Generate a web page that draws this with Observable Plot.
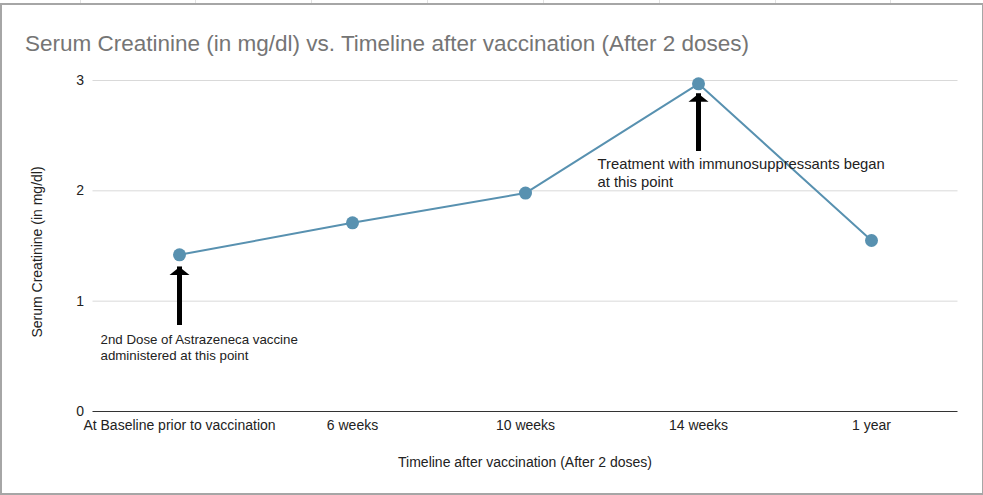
<!DOCTYPE html>
<html>
<head>
<meta charset="utf-8">
<script src="https://cdn.jsdelivr.net/npm/d3@7"></script>
<script src="https://cdn.jsdelivr.net/npm/@observablehq/plot@0.6"></script>
<style>
  html, body { margin: 0; padding: 0; background: #fff; }
  #wrap { position: relative; width: 983px; height: 495px; overflow: hidden; font-family: "Liberation Sans", Arial, sans-serif; }
  .cell { position: absolute; top: 0; width: 1px; height: 4px; background: #e2e2e2; }
  #frame { position: absolute; left: 0; top: 3px; width: 980px; height: 488px; border: 2px solid #a6a6a6; box-sizing: content-box; background: #fff; }
  #title { position: absolute; left: 25px; top: 32px; font-size: 22.5px; line-height: 24px; color: #757575; white-space: nowrap; }
  #xlabel { position: absolute; left: 525px; top: 454px; transform: translateX(-50%); font-size: 14px; line-height: 16px; color: #222; white-space: nowrap; }
  #ylabel { position: absolute; left: 37px; top: 252px; transform: translate(-50%, -50%) rotate(-90deg); font-size: 14px; line-height: 16px; color: #222; white-space: nowrap; }
  #chart { position: absolute; left: 0; top: 0; }
</style>
</head>
<body>
<div id="wrap">
  <div id="frame"></div>
  <div id="title">Serum Creatinine (in mg/dl) vs. Timeline after vaccination (After 2 doses)</div>
  <div id="ylabel">Serum Creatinine (in mg/dl)</div>
  <div id="xlabel">Timeline after vaccination (After 2 doses)</div>
  <div id="chart"></div>
</div>
<script>
// Data
const categories = ["At Baseline prior to vaccination", "6 weeks", "10 weeks", "14 weeks", "1 year"];
const creatinine = [1.42, 1.71, 1.98, 2.97, 1.55];
const yTicks = [0, 1, 2, 3];

// Annotations (arrow + note) in data units
const noteCategory = ["At Baseline prior to vaccination", "14 weeks"];
const arrowTip = [1.31, 2.88];
const arrowTail = [0.834, 2.411];
const noteY = [0.716, 2.311];
const noteText = [
  "2nd Dose of Astrazeneca vaccine\nadministered at this point",
  "Treatment with immunosuppressants began\nat this point"
];
const noteDx = [-79, -101];
const noteSize = [13.3, 14.8];

// spreadsheet cell separators above the chart
const cellEdges = [80, 195, 311, 427, 543, 659, 775, 890];

const wrap = document.getElementById("wrap");
cellEdges.forEach(x => {
  const d = document.createElement("div");
  d.className = "cell";
  d.style.left = x + "px";
  wrap.insertBefore(d, wrap.firstChild);
});

const data = categories.map((c, i) => ({category: c, value: creatinine[i]}));
const notes = noteCategory.map((c, i) => ({category: c, tip: arrowTip[i], tail: arrowTail[i], ty: noteY[i], text: noteText[i], dx: noteDx[i], size: noteSize[i]}));

const lineColor = "#5891b0";

// flat, wide arrow head with its tip at the origin
const arrowHead = {
  draw(context) {
    context.moveTo(0, 0);
    context.lineTo(10, 8);
    context.lineTo(-10, 8);
    context.closePath();
  }
};

const chart = Plot.plot({
  width: 983,
  height: 495,
  marginLeft: 92.5,
  marginRight: 25.5,
  marginTop: 80,
  marginBottom: 84,
  style: {fontFamily: "'Liberation Sans', Arial, sans-serif", fontSize: "14px", color: "#222", background: "transparent", overflow: "visible"},
  x: {type: "point", domain: categories, padding: 0.5, label: null},
  y: {domain: [0, 3], label: null},
  marks: [
    Plot.gridY(yTicks.filter(t => t > 0), {stroke: "#d9d9d9", strokeOpacity: 1}),
    Plot.axisY(yTicks, {tickSize: 0, tickPadding: 9, label: null, tickFormat: d3.format("d"), fill: "#222", fontSize: 14}),
    Plot.axisX({tickSize: 0, tickPadding: 9, label: null, fill: "#222", fontSize: 14}),
    Plot.ruleY([0], {stroke: "#333", strokeWidth: 1}),
    Plot.line(data, {x: "category", y: "value", stroke: lineColor, strokeWidth: 2}),
    Plot.dot(data, {x: "category", y: "value", r: 6.5, fill: lineColor, stroke: "none"}),
    Plot.ruleX(notes, {x: "category", y1: "tail", y2: "tip", stroke: "#000", strokeWidth: 5, insetTop: 6}),
    Plot.dot(notes, {x: "category", y: "tip", symbol: arrowHead, fill: "#000", stroke: "none"}),
    ...notes.map(n => Plot.text([n], {x: "category", y: "ty", text: "text", textAnchor: "start", lineAnchor: "top", lineHeight: 1.2, fontSize: n.size, fill: "#222", dx: n.dx}))
  ]
});
document.getElementById("chart").appendChild(chart);
</script>
</body>
</html>
